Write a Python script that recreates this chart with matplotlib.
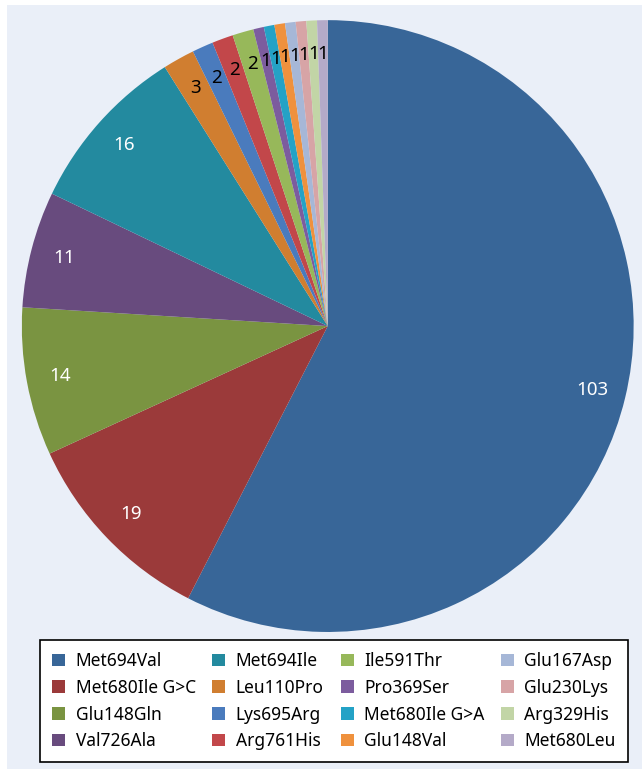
import matplotlib.pyplot as plt
from matplotlib.patches import Rectangle

# variant counts, in drawing order (clockwise from 12 o'clock)
variants = ['Met694Val', 'Met680Ile G>C', 'Glu148Gln', 'Val726Ala',
            'Met694Ile', 'Leu110Pro', 'Lys695Arg', 'Arg761His',
            'Ile591Thr', 'Pro369Ser', 'Met680Ile G>A', 'Glu148Val',
            'Glu167Asp', 'Glu230Lys', 'Arg329His', 'Met680Leu']
counts = [103, 19, 14, 11, 16, 3, 2, 2, 2, 1, 1, 1, 1, 1, 1, 1]
colors = ['#386698', '#9b3a3a', '#7a9441', '#684b7e',
          '#238a9f', '#d07e30', '#4a7bbd', '#c2474a',
          '#97b85a', '#7c5c9e', '#24a2c6', '#ef913d',
          '#a6b7d7', '#d7a4a6', '#c2d5a6', '#b4aac8']

plt.rcParams['font.family'] = ['Noto Sans', 'DejaVu Sans']

fig = plt.figure(figsize=(6.42, 7.69), dpi=100)
fig.patch.set_facecolor('white')
fig.patches.append(Rectangle((7 / 642, 0), 1, 1 - 5 / 769, transform=fig.transFigure,
                             facecolor='#eaeff8', edgecolor='none', zorder=-10))

ax = fig.add_axes([0.034, 0.178, 0.953, 0.796])
wedges, texts = ax.pie(counts, labels=[str(c) for c in counts], colors=colors,
                       startangle=90, counterclock=False, labeldistance=0.89,
                       wedgeprops=dict(linewidth=0),
                       textprops=dict(ha='center', va='center', fontsize=13.5))
for t, c in zip(texts, counts):
    t.set_color('white' if c >= 10 else 'black')
ax.set_xlim(-1, 1)
ax.set_ylim(-1, 1)
ax.set_aspect('equal')
ax.axis('off')

leg = fig.legend(wedges, variants, ncol=4, loc='upper left',
                 bbox_to_anchor=(40 / 642, 0.0156, 588 / 642, (769 - 640) / 769 - 0.0156),
                 mode='expand', borderaxespad=0,
                 fontsize=12.5, frameon=True, fancybox=False, edgecolor='black',
                 framealpha=1, facecolor='white',
                 handlelength=0.75, handleheight=0.75, handletextpad=0.6,
                 labelspacing=0.5, borderpad=0.7, columnspacing=0.5)
leg.get_frame().set_linewidth(1.2)

fig.savefig('out.png', dpi=100, facecolor=fig.get_facecolor())
